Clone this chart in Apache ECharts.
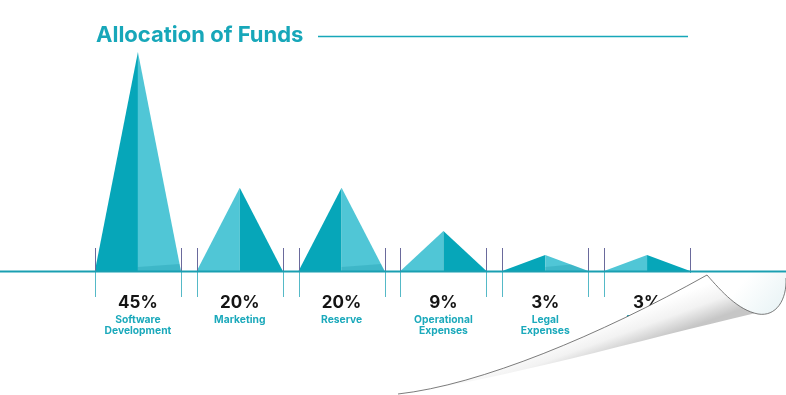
<!DOCTYPE html>
<html><head><meta charset="utf-8">
<script src="https://cdn.jsdelivr.net/npm/echarts@6/dist/echarts.min.js"></script>
<style>html,body{margin:0;padding:0;background:#fff}#c{width:786px;height:395px}</style>
</head><body><div id="c"></div>
<script>
// ---- data ----
const categories = ['Software\nDevelopment', 'Marketing', 'Reserve', 'Operational\nExpenses', 'Legal\nExpenses', 'Advisors'];
const shares = [45, 20, 20, 9, 3, 3];              // percentages printed under each peak
const percentLabels = ['45%', '20%', '20%', '9%', '3%', '3%'];
const peakHeights = [45, 17.1, 17.1, 8.2, 3.3, 3.3]; // drawn peak heights (infographic is not to scale), in share units

const DARK = '#06a6b9', LIGHT = '#50c6d6', TEAL = '#17a7b9';

const chart = echarts.init(document.getElementById('c'), null, {renderer: 'canvas'});

function renderItem(params, api) {
  const i = api.value(0);
  const top = api.coord([i, api.value(1)]);
  const base = api.coord([i, 0]);
  const band = api.size([1, 0])[0];
  const half = band * 0.845 / 2;
  const cx = base[0], by = base[1], ty = top[1];
  const xl = cx - half, xr = cx + half;
  const darkLeft = i % 2 === 0;
  const h = by - ty;
  const children = [
    {type: 'polygon', shape: {points: [[xl, by], [cx, ty], [cx, by]]}, style: {fill: darkLeft ? DARK : LIGHT}},
    {type: 'polygon', shape: {points: [[cx, by], [cx, ty], [xr, by]]}, style: {fill: darkLeft ? LIGHT : DARK}}
  ];
  if (darkLeft) {
    const q = Math.min(7, h * 0.4);
    const px = xr - half * q / h;
    children.push({type: 'polygon', shape: {points: [[cx, by], [cx, by - Math.min(4, h * 0.35)], [px, by - q], [xr, by]]},
      style: {fill: 'rgba(0,130,150,0.22)'}});
  }
  [xl, xr].forEach(x => {
    const sx = Math.round(x) + 0.5;
    children.push({type: 'line', shape: {x1: sx, y1: by - 23, x2: sx, y2: by}, style: {stroke: '#6a6a9c', lineWidth: 1}});
    children.push({type: 'line', shape: {x1: sx, y1: by + 1, x2: sx, y2: by + 26}, style: {stroke: '#55b9c7', lineWidth: 1}});
  });
  return {type: 'group', children};
}

// decorative page curl in the lower-right corner
const flapEdge = 'M398 394 C480 385 600 335 707 275';
const curlEdge = 'C722 292 738 310 758 314 C776 317 787 300 786 278';
function renderCurl() {
  return {type: 'group', children: [
    {type: 'rect', shape: {x: 688, y: 273, width: 98, height: 122}, style: {fill: '#fff'}},
    {type: 'path', shape: {pathData: flapEdge + ' C722 292 738 308 756 313 C640 340 500 380 398 394 Z'},
      style: {fill: {type: 'linear', x: 650, y: 305, x2: 662, y2: 338, global: true, colorStops: [
        {offset: 0, color: '#ffffff'}, {offset: 0.5, color: '#f2f2f2'}, {offset: 1, color: '#c6c6c6'}]}}},
    {type: 'path', shape: {pathData: 'M707 275 ' + curlEdge + ' L786 273 L712 273 Z'},
      style: {fill: {type: 'linear', x: 740, y: 285, x2: 775, y2: 314, global: true, colorStops: [
        {offset: 0, color: '#ffffff'}, {offset: 1, color: '#eaf4f6'}]}}},
    {type: 'path', shape: {pathData: flapEdge + ' ' + curlEdge}, style: {fill: null, stroke: '#5a5a5a', lineWidth: 0.8}}
  ]};
}

chart.setOption({
  animation: false,
  backgroundColor: '#fff',
  title: {
    text: 'Allocation of Funds', left: 91, top: 19,
    textStyle: {fontFamily: 'Inter', fontSize: 22, fontWeight: 700, color: TEAL}
  },
  grid: {left: 87, right: 88, top: 52, bottom: 124},
  xAxis: {
    type: 'category', data: categories,
    axisLine: {show: false}, axisTick: {show: false},
    axisLabel: {
      interval: 0, margin: 21,
      formatter: (val, idx) => '{v|' + percentLabels[idx] + '}\n' + val.split('\n').map(s => '{n|' + s + '}').join('\n'),
      rich: {
        v: {fontFamily: 'Inter', fontSize: 17, fontWeight: 700, color: '#141414', lineHeight: 22},
        n: {fontFamily: 'Inter', fontSize: 10.3, fontWeight: 700, color: '#1ba9bb', lineHeight: 11}
      }
    }
  },
  yAxis: {type: 'value', min: 0, max: 45, show: false, splitLine: {show: false}},
  series: [
    {type: 'custom', renderItem, z: 2, data: shares.map((v, i) => [i, peakHeights[i], v])},
    {type: 'custom', renderItem: renderCurl, z: 20, zlevel: 1, silent: true, data: [[0]]}
  ],
  graphic: [
    {type: 'line', z: 10, shape: {x1: 318, y1: 36.5, x2: 688, y2: 36.5}, style: {stroke: TEAL, lineWidth: 1.4}},
    {type: 'line', z: 10, shape: {x1: 0, y1: 271.5, x2: 786, y2: 271.5}, style: {stroke: '#1a9fb1', lineWidth: 2}}
  ]
});
</script></body></html>
